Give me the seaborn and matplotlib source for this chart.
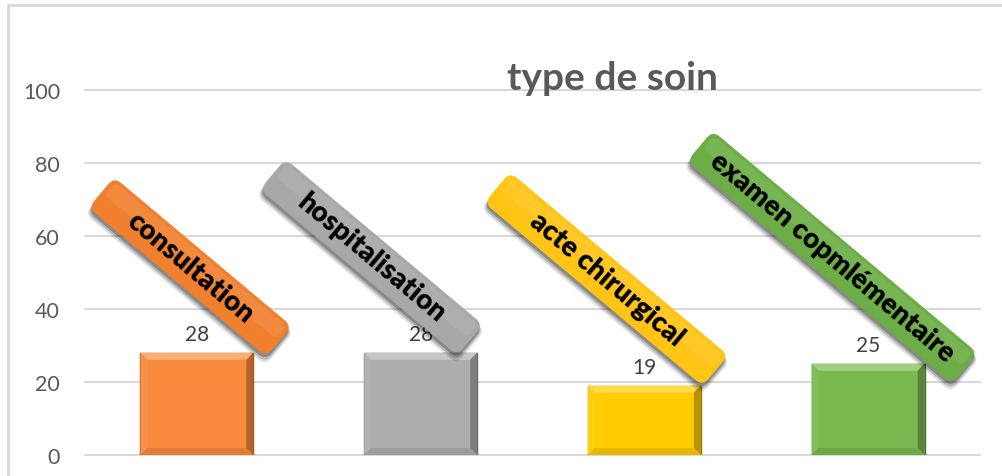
import numpy as np
import pandas as pd
import seaborn as sns
import matplotlib
matplotlib.use("Agg")
import matplotlib.pyplot as plt
import matplotlib.transforms as mtransforms
from matplotlib.patches import FancyBboxPatch, Polygon
from matplotlib.lines import Line2D
from matplotlib.colors import to_rgb

# ---- data ----
categories = ["consultation", "hospitalisation", "acte chirurgical", "examen copmlémentaire"]
values = [28, 28, 19, 25]
y_ticks = [0, 20, 40, 60, 80, 100]
title = "type de soin"

# ---- styles / layout ----
bar_colors = ["#F98A3B", "#ADADAD", "#FFCC00", "#7AB94F"]
box_colors = ["#F0802E", "#A8A8A8", "#FFC414", "#6CAE45"]
label_pos_x = [-0.03, 0.78, 1.83, 2.84]      # label box centres (data x)
label_pos_y = [51.5, 54.2, 48.2, 54.2]       # label box centres (data y)
box_len_px = [232, 258, 285, 346]
box_thick_px = 40
angle = -40

sns.set_theme(style="white")
plt.rcParams['font.family'] = ['Lato', 'DejaVu Sans']

fig = plt.figure(figsize=(10.03, 4.77), dpi=100)
ax = fig.add_axes([85/1003, 1 - 456/477, 895/1003, 365/477])

df = pd.DataFrame({"cat": categories, "val": values})
sns.barplot(data=df, x="cat", y="val", hue="cat", palette=bar_colors,
            legend=False, width=0.505, ax=ax, saturation=1, zorder=2)

ax.set_ylim(0, 100)
ax.set_xlim(-0.5, len(categories) - 0.5)
ax.set_yticks(y_ticks)
ax.set_yticklabels([str(t) for t in y_ticks])
ax.set_xticks([])
ax.set_xlabel("")
ax.set_ylabel("")
for s in ax.spines.values():
    s.set_visible(False)
ax.tick_params(axis="y", length=0, pad=18, labelsize=15.5, labelcolor="#595959")
for t in y_ticks:
    ax.axhline(t, color="#D9D9D9", lw=1.5, zorder=0, clip_on=False)


def shade(c, f):
    r, g, b = to_rgb(c)
    if f > 0:
        return (r + (1 - r) * f, g + (1 - g) * f, b + (1 - b) * f)
    return (r * (1 + f), g * (1 + f), b * (1 + f))


# bevel effect on bars
fig.canvas.draw()
ppx_x = (ax.get_xlim()[1] - ax.get_xlim()[0]) / ax.get_window_extent().width
ppx_y = (ax.get_ylim()[1] - ax.get_ylim()[0]) / ax.get_window_extent().height
bx, by = 7 * ppx_x, 7 * ppx_y
for p, c in zip(ax.patches, bar_colors):
    x0, w, h = p.get_x(), p.get_width(), p.get_height()
    p.set_edgecolor(shade(c, -0.4))
    p.set_linewidth(1)
    polys = [
        ([(x0, h), (x0 + w, h), (x0 + w - bx, h - by), (x0 + bx, h - by)], shade(c, 0.3)),
        ([(x0, 0), (x0, h), (x0 + bx, h - by), (x0 + bx, by)], shade(c, 0.06)),
        ([(x0 + w, h), (x0 + w, 0), (x0 + w - bx, by), (x0 + w - bx, h - by)], shade(c, -0.28)),
        ([(x0, 0), (x0 + w, 0), (x0 + w - bx, by), (x0 + bx, by)], shade(c, -0.1)),
    ]
    for pts, col in polys:
        ax.add_patch(Polygon(pts, closed=True, facecolor=col, edgecolor="none", zorder=2.5))

for cont in ax.containers:
    ax.bar_label(cont, padding=6, fontsize=15, color="#404040", zorder=3)

# rotated label boxes
for i, cat in enumerate(categories):
    L, T = box_len_px[i], box_thick_px
    for off, alpha, grow in [(5, 0.12, 4), (4, 0.18, 2), (3, 0.25, 0)]:
        tr = (mtransforms.Affine2D().translate(off * 0.6, -off)
              + mtransforms.Affine2D().rotate_deg(angle)
              + mtransforms.ScaledTranslation(label_pos_x[i], label_pos_y[i], ax.transData))
        sh = FancyBboxPatch((-L / 2 - grow / 2, -T / 2 - grow / 2), L + grow, T + grow,
                            boxstyle="round,pad=0,rounding_size=9",
                            facecolor="black", alpha=alpha, edgecolor="none",
                            transform=tr, zorder=4, clip_on=False)
        ax.add_patch(sh)
    tr = (mtransforms.Affine2D().rotate_deg(angle)
          + mtransforms.ScaledTranslation(label_pos_x[i], label_pos_y[i], ax.transData))
    box = FancyBboxPatch((-L / 2, -T / 2), L, T, boxstyle="round,pad=0,rounding_size=9",
                         facecolor=box_colors[i], edgecolor="none", transform=tr,
                         zorder=5, clip_on=False)
    ax.add_patch(box)
    hl = FancyBboxPatch((-L / 2 + 4, 0), L - 8, T / 2 - 3, boxstyle="round,pad=0,rounding_size=6",
                        facecolor="white", alpha=0.08, edgecolor="none", transform=tr,
                        zorder=5.1, clip_on=False)
    ax.add_patch(hl)
    ax.text(label_pos_x[i], label_pos_y[i], cat, rotation=angle, rotation_mode="anchor",
            ha="center", va="center", fontsize=20, fontweight="heavy", color="black",
            zorder=6, clip_on=False)

fig.text(612 / 1003, 1 - 78 / 477, title, ha="center", va="center",
         fontsize=28, fontweight="bold", color="#595959")

# chart frame (only left and top visible)
fig.add_artist(Line2D([8 / 1003, 8 / 1003], [0, 1 - 6 / 477], transform=fig.transFigure,
                      color="#D9D9D9", lw=2))
fig.add_artist(Line2D([8 / 1003, 1], [1 - 6 / 477, 1 - 6 / 477], transform=fig.transFigure,
                      color="#D9D9D9", lw=2))

fig.savefig("out.png", dpi=100)
